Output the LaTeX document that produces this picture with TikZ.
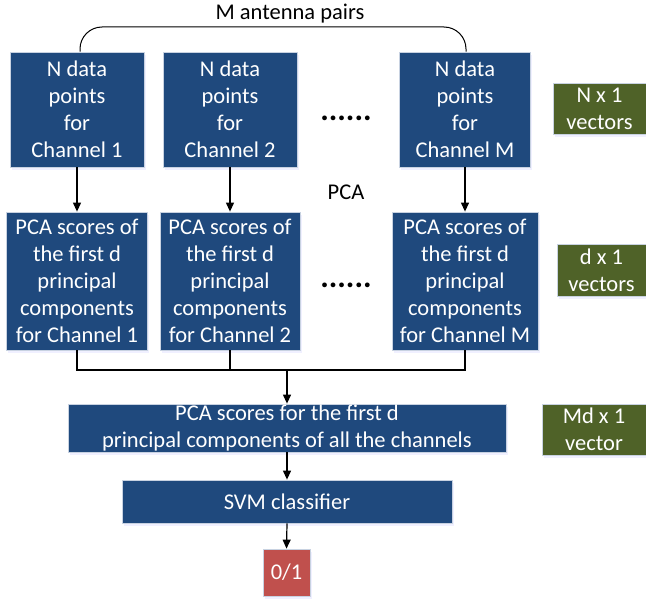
\documentclass[tikz,border=0pt]{standalone}
\usepackage{fontspec}
\setmainfont{Carlito}
\usetikzlibrary{arrows.meta,shadows}
\definecolor{bluebox}{RGB}{31,73,125}
\definecolor{greenbox}{RGB}{79,98,40}
\definecolor{redbox}{RGB}{192,80,77}
\definecolor{edgecol}{RGB}{200,210,225}
\tikzset{
  base/.style={draw=edgecol, line width=0.8pt, text=white, align=center, inner sep=0pt,
    font=\fontsize{22.5}{27}\selectfont,
    drop shadow={opacity=0.15, shadow xshift=1.5pt, shadow yshift=-3pt, fill=blue!40}},
  bbox/.style={base, fill=bluebox},
  gbox/.style={base, fill=greenbox},
  rbox/.style={base, fill=redbox},
  conn/.style={line width=1.2pt, black},
  arr/.style={conn, -{Triangle[length=9pt,width=8pt]}},
  dots/.style={font=\fontsize{32}{32}\selectfont\bfseries, inner sep=0pt},
  lbl/.style={font=\fontsize{22.5}{27}\selectfont, text=black, inner sep=0pt}
}
\begin{document}
\begin{tikzpicture}[x=1pt,y=-1pt]
\useasboundingbox (0,0) rectangle (646,599);
% top row
\node[bbox, minimum width=134pt, minimum height=115pt] (t1) at (77,109.5) {N data\\points\\for\\Channel 1};
\node[bbox, minimum width=134pt, minimum height=115pt] (t2) at (230,109.5) {N data\\points\\for\\Channel 2};
\node[bbox, minimum width=131pt, minimum height=115pt] (tm) at (465,109.5) {N data\\points\\for\\Channel M};
\node[dots] (d1) at (346,118) {......};
\node[gbox, minimum width=93pt, minimum height=51pt] (g1) at (599.5,108.5) {N x 1\\vectors};
% title and arc
\node[lbl] (title) at (290,14) {M antenna pairs};
\draw[conn, line width=1pt, rounded corners=22pt] (t1.north) ++(3,0) coordinate (a1) |- (290,27) coordinate (amid) -| ([xshift=1pt]tm.north);
% second row
\node[bbox, minimum width=141pt, minimum height=138pt] (s1) at (77,281) {PCA scores of\\the first d\\principal\\components\\for Channel 1};
\node[bbox, minimum width=140pt, minimum height=138pt] (s2) at (230,281) {PCA scores of\\the first d\\principal\\components\\for Channel 2};
\node[bbox, minimum width=146pt, minimum height=138pt] (sm) at (465,281) {PCA scores of\\the first d\\principal\\components\\for Channel M};
\node[dots] (d2) at (346,285) {......};
\node[gbox, minimum width=89pt, minimum height=52pt] (g2) at (601.5,270) {d x 1\\vectors};
\node[lbl] (pca) at (346,192) {PCA};
\draw[arr] (t1.south) -- (s1.north);
\draw[arr] (t2.south) -- (s2.north);
\draw[arr] (tm.south) -- (sm.north);
% merge
\node[bbox, minimum width=438pt, minimum height=48pt] (all) at (287,428) {PCA scores for the first d\\principal components of all the channels};
\node[gbox, minimum width=104pt, minimum height=51pt] (g3) at (594,429.5) {Md x 1\\vector};
\coordinate (j) at (all.north |- 0,370);
\draw[conn] (s1.south) |- (j);
\draw[conn] (sm.south) |- (j);
\draw[conn] (s2.south) -- (s2.south |- j);
\draw[arr] (j) -- (all.north);
% svm
\node[bbox, minimum width=330pt, minimum height=43pt] (svm) at (287,501.5) {SVM classifier};
\draw[arr] (all.south) -- (svm.north);
\node[rbox, minimum width=47pt, minimum height=47pt] (out) at (286.5,572.5) {0/1};
\draw[arr] (svm.south) -- (out.north);
\end{tikzpicture}
\end{document}
